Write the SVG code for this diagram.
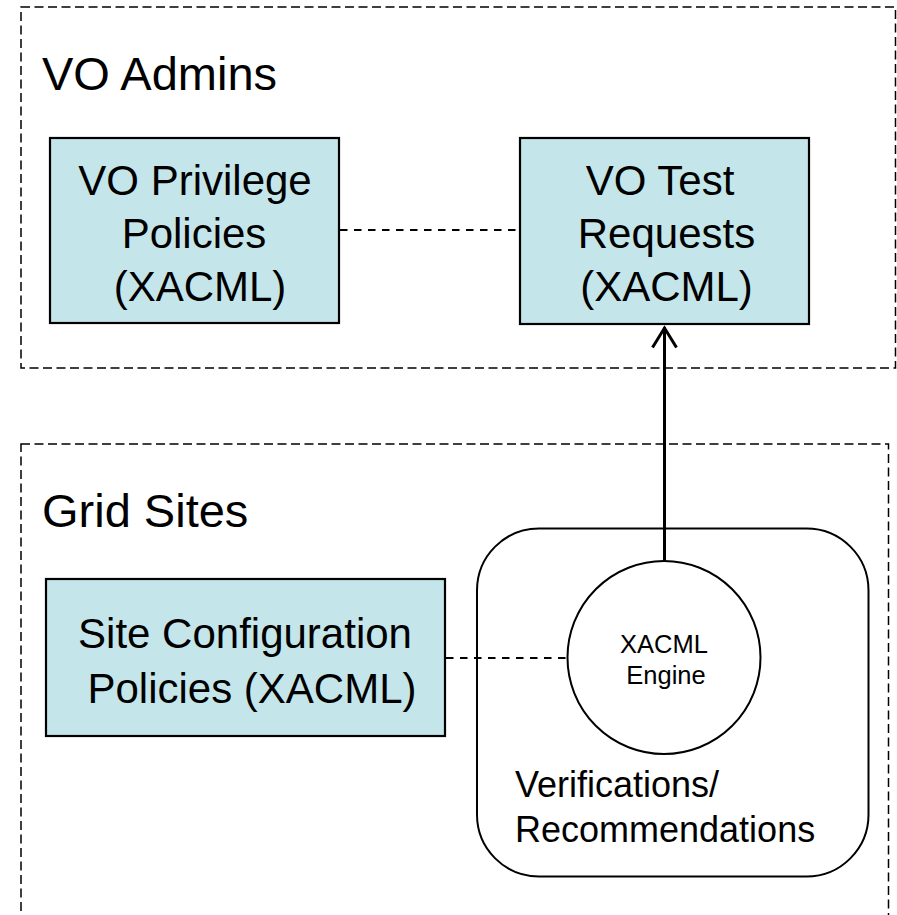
<svg xmlns="http://www.w3.org/2000/svg" width="897" height="915" viewBox="0 0 897 915">
  <style>
    .zone { fill: none; stroke: #000; stroke-width: 1.5; stroke-dasharray: 9 4.5; }
    .policy { fill: #C4E6EA; stroke: #000; stroke-width: 2.2; }
    .label { font-family: "Liberation Sans", Arial, sans-serif; fill: #000; }
    .big { font-size: 47px; }
    .box { font-size: 42px; text-anchor: middle; }
    .link { fill: none; stroke: #000; stroke-width: 1.8; stroke-dasharray: 7.5 6.5; }
    .flow { fill: none; stroke: #000; stroke-width: 3; }
  </style>

  <!-- VO Admins zone -->
  <g id="vo-admins">
    <rect class="zone" x="21" y="7" width="874.5" height="361"/>
    <text class="label big" x="42" y="90">VO Admins</text>
  </g>

  <!-- Grid Sites zone (runs off the bottom edge) -->
  <g id="grid-sites">
    <rect class="zone" x="21" y="444" width="867.5" height="500"/>
    <text class="label big" x="42" y="527">Grid Sites</text>
  </g>

  <g id="vo-privilege-policies">
    <rect class="policy" x="50" y="138" width="289" height="185"/>
    <text class="label box" x="195" y="195">VO Privilege</text>
    <text class="label box" x="194" y="248">Policies</text>
    <text class="label box" x="200" y="301">(XACML)</text>
  </g>

  <g id="vo-test-requests">
    <rect class="policy" x="520" y="138" width="289" height="186"/>
    <text class="label box" x="660" y="195">VO Test</text>
    <text class="label box" x="666.5" y="248">Requests</text>
    <text class="label box" x="666.5" y="301">(XACML)</text>
  </g>

  <g id="site-configuration-policies">
    <rect class="policy" x="46" y="579" width="399" height="157"/>
    <text class="label box" x="245" y="648">Site Configuration</text>
    <text class="label box" x="252" y="703">Policies (XACML)</text>
  </g>

  <g id="verifications">
    <rect x="477" y="528.5" width="391.5" height="348" rx="62" ry="62" fill="none" stroke="#000" stroke-width="2"/>
    <text class="label" x="515" y="797" font-size="36">Verifications/</text>
    <text class="label" x="515" y="842" font-size="36">Recommendations</text>
  </g>

  <g id="xacml-engine">
    <circle cx="664" cy="657.5" r="96.5" fill="#fff" stroke="#000" stroke-width="2"/>
    <text class="label" x="664" y="653" font-size="25.5" text-anchor="middle">XACML</text>
    <text class="label" x="666" y="684" font-size="25.5" text-anchor="middle">Engine</text>
  </g>

  <g id="connectors">
    <line class="link" x1="340" y1="230" x2="518" y2="230"/>
    <line class="link" x1="446" y1="658" x2="567" y2="658"/>
    <line class="flow" x1="664.5" y1="561" x2="664.5" y2="327"/>
    <polyline class="flow" points="652.5,347.5 664.5,328 676.5,347.5"/>
  </g>
</svg>
